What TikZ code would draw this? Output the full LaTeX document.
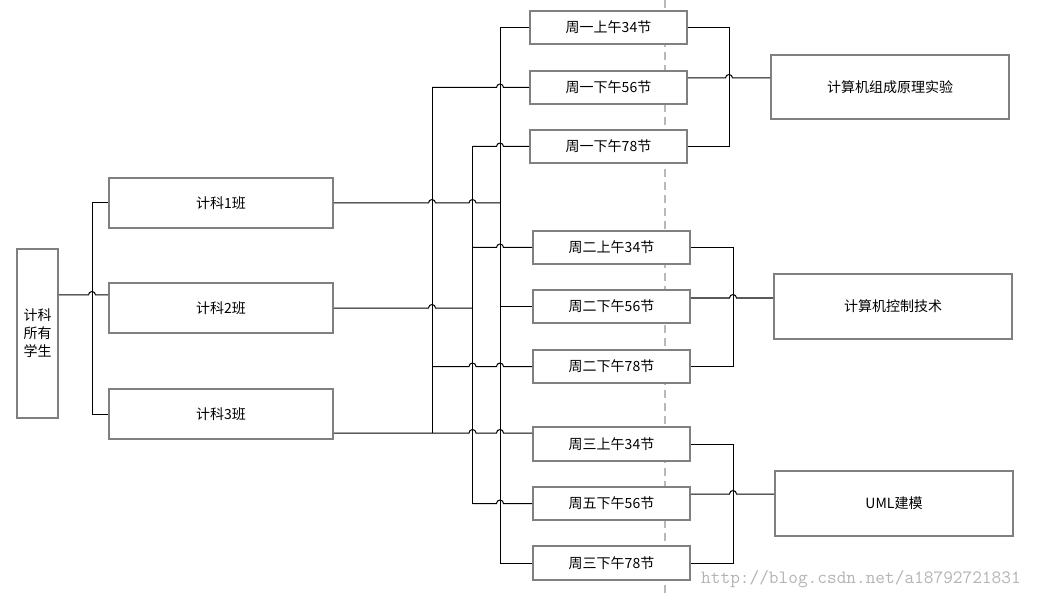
\documentclass[tikz,border=0pt]{standalone}
\usepackage{fontspec}
\setmainfont{Noto Sans CJK SC}
\usetikzlibrary{calc}
\definecolor{boxgray}{RGB}{128,128,128}
\definecolor{dashgray}{RGB}{185,185,185}
\definecolor{wmgray}{RGB}{180,180,180}
\newcommand\hp[2]{-- ($(#1 |- #2)+(-3.5,0)$) arc[start angle=180,end angle=0,radius=3.5pt]}
\begin{document}
\begin{tikzpicture}[x=1pt,y=-1pt,
  box/.style={draw=boxgray, line width=1.6pt, fill=white, inner sep=0pt,
    font=\fontsize{14}{18}\selectfont},
  wire/.style={draw=black, line width=1pt},
  dashline/.style={draw=dashgray, line width=1.2pt, dash pattern=on 8pt off 5pt},
  wm/.style={font=\ttfamily\fontsize{18.8}{20}\selectfont, text=wmgray, anchor=base west, inner sep=0pt}
]
\useasboundingbox (0,0) rectangle (1042,596);
\fill[white] (0,0) rectangle (1042,596);
% dashed divider
\coordinate (dtop) at (665,0);
\coordinate (dbot) at (665,596);
\draw[dashline] (dtop) -- (dbot);

% nodes
\node[box, minimum width=41pt, minimum height=169pt, align=center] (all) at (37.5,333.5) {计科\\所有\\学生};
\node[box, minimum width=224pt, minimum height=50pt] (c1) at (221,203) {计科1班};
\node[box, minimum width=224pt, minimum height=50pt] (c2) at (221,308) {计科2班};
\node[box, minimum width=224pt, minimum height=50pt] (c3) at (221,414) {计科3班};

\node[box, minimum width=157pt, minimum height=33pt] (s1) at (608.5,27.5) {周一上午34节};
\node[box, minimum width=157pt, minimum height=33pt] (s2) at (608.5,87.5) {周一下午56节};
\node[box, minimum width=157pt, minimum height=33pt] (s3) at (608.5,146.5) {周一下午78节};
\node[box, minimum width=157pt, minimum height=33pt] (s4) at (611.5,247.5) {周二上午34节};
\node[box, minimum width=157pt, minimum height=33pt] (s5) at (611.5,306.5) {周二下午56节};
\node[box, minimum width=157pt, minimum height=33pt] (s6) at (611.5,366.5) {周二下午78节};
\node[box, minimum width=157pt, minimum height=34pt] (s7) at (611.5,444) {周三上午34节};
\node[box, minimum width=157pt, minimum height=33pt] (s8) at (611.5,503.5) {周五下午56节};
\node[box, minimum width=157pt, minimum height=34pt] (s9) at (611.5,563) {周三下午78节};

\node[box, minimum width=238pt, minimum height=64pt] (k1) at (890,87) {计算机组成原理实验};
\node[box, minimum width=238pt, minimum height=65pt] (k2) at (893,306.5) {计算机控制技术};
\node[box, minimum width=238pt, minimum height=65pt] (k3) at (894,503.5) {UML建模};

\node[wm] (wmk) at (701,583) {http://blog.csdn.net/a18792721831};

% junction columns
\coordinate (vl) at (92,0);
\coordinate (va) at (432,0);
\coordinate (vb) at (472.5,0);
\coordinate (vc) at (500,0);
\coordinate (r1) at (729,0);
\coordinate (r2) at (733,0);
\coordinate (r3) at (733,0);

% ports
\coordinate (allo) at ([yshift=38.5pt]all.east);
\coordinate (c3o) at ([yshift=-19pt]c3.east);
\coordinate (s2o) at ([yshift=9.5pt]s2.east);
\coordinate (s5o) at ([yshift=8.5pt]s5.east);
\coordinate (s7i) at ([yshift=11pt]s7.west);
\coordinate (s8o) at ([yshift=9.5pt]s8.east);
\coordinate (k1i) at ([yshift=9pt]k1.west);
\coordinate (k2i) at ([yshift=8.5pt]k2.west);
\coordinate (k3i) at ([yshift=9.5pt]k3.west);

% left tree
\draw[wire] (c1.west) -- (vl |- c1.west) -- (vl |- c3.west) -- (c3.west);
\draw[wire] (allo) \hp{vl}{allo} -- (c2.west |- allo);

% middle verticals
\draw[wire] (va |- s2.west) -- (va |- c3o);
\draw[wire] (vb |- s3.west) -- (vb |- s8.west);
\draw[wire] (vc |- s1.west) -- (vc |- s9.west);

% middle rows
\draw[wire] (vc |- s1.west) -- (s1.west);
\draw[wire] (va |- s2.west) \hp{vc}{s2.west} -- (s2.west);
\draw[wire] (vb |- s3.west) \hp{vc}{s3.west} -- (s3.west);
\draw[wire] (c1.east) \hp{va}{c1.east} \hp{vb}{c1.east} -- (vc |- c1.east);
\draw[wire] (vb |- s4.west) \hp{vc}{s4.west} -- (s4.west);
\draw[wire] (c2.east) \hp{va}{c2.east} -- (vb |- c2.east);
\draw[wire] (vc |- s5.west) -- (s5.west);
\draw[wire] (va |- s6.west) \hp{vb}{s6.west} \hp{vc}{s6.west} -- (s6.west);
\draw[wire] (c3o) \hp{vb}{c3o} \hp{vc}{c3o} -- (s7i);
\draw[wire] (vb |- s8.west) \hp{vc}{s8.west} -- (s8.west);
\draw[wire] (vc |- s9.west) -- (s9.west);

% right groups
\draw[wire] (s1.east) -- (r1 |- s1.east) -- (r1 |- s3.east) -- (s3.east);
\draw[wire] (s2o) \hp{r1}{s2o} -- (k1i);
\draw[wire] (s4.east) -- (r2 |- s4.east) -- (r2 |- s6.east) -- (s6.east);
\draw[wire] (s5o) \hp{r2}{s5o} -- (k2i);
\draw[wire] (s7.east) -- (r3 |- s7.east) -- (r3 |- s9.east) -- (s9.east);
\draw[wire] (s8o) \hp{r3}{s8o} -- (k3i);
\end{tikzpicture}
\end{document}
